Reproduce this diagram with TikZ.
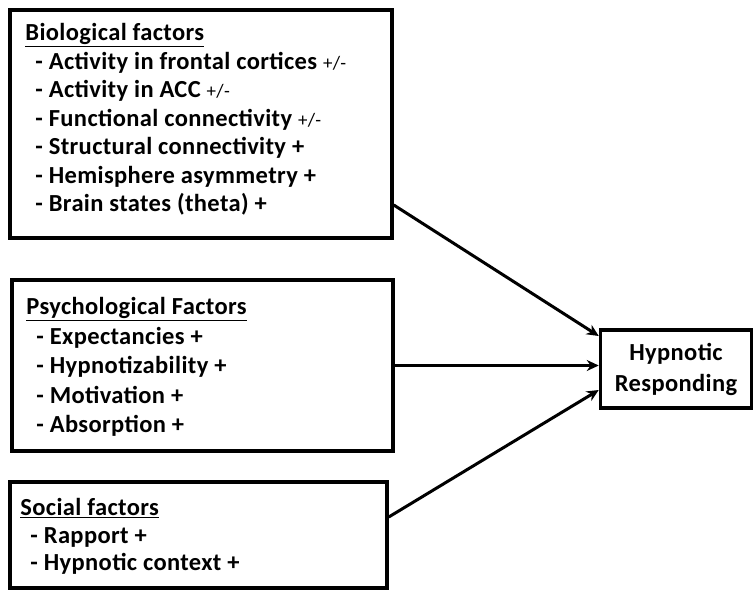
\documentclass[tikz,border=0pt]{standalone}
\usepackage{fontspec}
\setmainfont{Carlito}[LetterSpace=1.5]
\usetikzlibrary{arrows.meta}

\newcommand{\pmsign}{{\mdseries\fontsize{19}{19}\selectfont +/-}}
\newcommand{\itm}{\hspace*{10pt}- }

\tikzset{
  factor/.style={draw, line width=3.5pt, inner sep=0pt},
  items/.style={anchor=north west, align=left, inner sep=0pt,
    font=\bfseries\fontsize{24.5}{28.5}\selectfont},
  arrow/.style={line width=3pt, -{Stealth[length=12pt,width=11pt]}}
}

\begin{document}
\begin{tikzpicture}[x=1pt,y=-1pt]
  \useasboundingbox (0,0) rectangle (754,589);

  % boxes
  \node[factor, minimum width=382, minimum height=228] (bio) at (201,124) {};
  \node[factor, minimum width=381, minimum height=171] (psy) at (202.5,365.5) {};
  \node[factor, minimum width=377, minimum height=106] (soc) at (198.5,535) {};
  \node[factor, minimum width=151, minimum height=78, align=center,
    font=\bfseries\fontsize{24.5}{31}\selectfont] (hyp) at (676,369) {Hypnotic\\Responding};

  % texts
  \node[items] (biotext) at ([shift={(17,15)}]bio.north west) {%
    \underline{Biological factors}\\
    \itm Activity in frontal cortices \pmsign\\
    \itm Activity in ACC \pmsign\\
    \itm Functional connectivity \pmsign\\
    \itm Structural connectivity +\\
    \itm Hemisphere asymmetry +\\
    \itm Brain states (theta) +};
  \node[items, font=\bfseries\fontsize{24.5}{29.5}\selectfont] (psytext) at ([shift={(16,19)}]psy.north west) {%
    \underline{Psychological Factors}\\
    \itm Expectancies +\\
    \itm Hypnotizability +\\
    \itm Motivation +\\
    \itm Absorption +};
  \node[items, font=\bfseries\fontsize{24.5}{27.5}\selectfont] (soctext) at ([shift={(12,18)}]soc.north west) {%
    \underline{Social factors}\\
    \itm Rapport +\\
    \itm Hypnotic context +};

  % arrows
  \draw[arrow] ([yshift=-81]bio.east) -- ([yshift=33]hyp.west);
  \draw[arrow] (psy.east) -- (psy.east -| hyp.west);
  \draw[arrow] ([yshift=18]soc.east) -- ([yshift=-21]hyp.west);
\end{tikzpicture}
\end{document}
